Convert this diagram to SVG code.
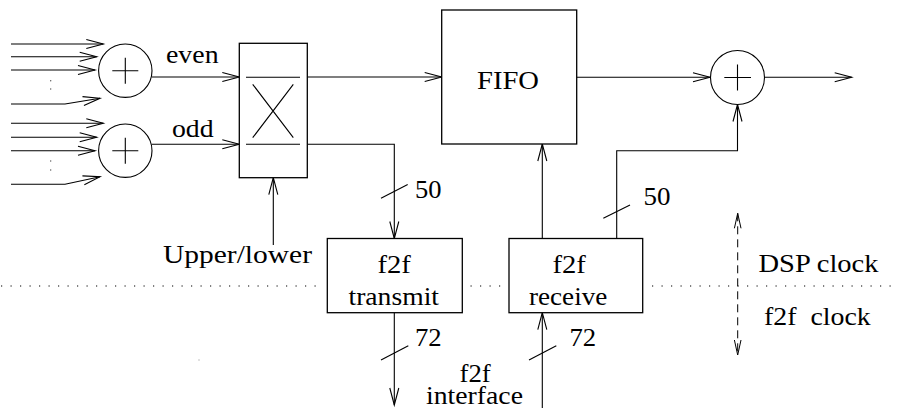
<svg xmlns="http://www.w3.org/2000/svg" width="897" height="408" viewBox="0 0 897 408">
<style>
.ln{fill:none;stroke:#000;stroke-width:1.1}
.box{fill:#fff;stroke:#000;stroke-width:1.3}
.circ{fill:#fff;stroke:#000;stroke-width:1.1}
.arr{marker-end:url(#ah)}
.dot{fill:none;stroke:#000;stroke-width:1.2;stroke-dasharray:1.2 8.3}
.dash{fill:none;stroke:#000;stroke-width:1;stroke-dasharray:8 5;marker-start:url(#sh);marker-end:url(#sh)}
</style>
<defs>
<marker id="ah" markerUnits="userSpaceOnUse" viewBox="-19 -6 20 12" refX="0" refY="0" markerWidth="20" markerHeight="12" orient="auto" overflow="visible">
<path d="M-17,-4.5 L0,0 L-17,4.5" fill="none" stroke="#000" stroke-width="1.1"/>
</marker>
<marker id="sh" markerUnits="userSpaceOnUse" viewBox="-16 -5 17 10" refX="0" refY="0" markerWidth="17" markerHeight="10" orient="auto-start-reverse" overflow="visible">
<path d="M-15,-3.3 L0,0 L-15,3.3" fill="none" stroke="#000" stroke-width="1"/>
</marker>
</defs>

<g id="connectors">
<path class="ln arr" d="M11,44 H103.3"/>
<path class="ln arr" d="M11,56.7 H96.7"/>
<path class="ln arr" d="M11,70 H95"/>
<path class="ln arr" d="M11,104 H65 L100,98.3"/>
<path class="ln arr" d="M11,123.3 H103.3"/>
<path class="ln arr" d="M11,137.3 H96.7"/>
<path class="ln arr" d="M11,150.7 H95"/>
<path class="ln arr" d="M11,184.3 H65 L100,176.7"/>
<path class="ln arr" d="M151.8,77 H239.3"/>
<path class="ln arr" d="M151.8,144.3 H239.3"/>
<path class="ln arr" d="M307.3,77 H441.7"/>
<path class="ln arr" d="M307.3,144.3 H394.3 V238.5"/>
<path class="ln arr" d="M273.3,245 V177.7"/>
<path class="ln arr" d="M394.3,312.7 V405"/>
<path class="ln arr" d="M542.3,408 V312.7"/>
<path class="ln arr" d="M542.3,238.5 V144"/>
<path class="ln arr" d="M616.7,238.5 V150.7 H737.5 V104.5"/>
<path class="ln arr" d="M576.7,77.3 H710"/>
<path class="ln arr" d="M765,77.3 H851.7"/>
<path class="dash" d="M737.7,213.3 V355"/>
<path class="ln" d="M381,198.3 L407.7,184.5"/>
<path class="ln" d="M603.3,218.3 L630,205"/>
<path class="ln" d="M381,360 L408.3,345.7"/>
<path class="ln" d="M529,360 L556.3,345.7"/>
<path class="dot" d="M1,286 H317"/>
<path class="dot" d="M470.5,286 H501"/>
<path class="dot" d="M652,286 H897"/>
</g>

<g font-family="Liberation Serif, Times New Roman, DejaVu Serif, serif" font-size="26" fill="#000">
<g id="inputs-even">
<circle cx="50.7" cy="80.7" r="0.7" fill="#555"/>
<circle cx="50.7" cy="89" r="0.7" fill="#555"/>
</g>
<g id="inputs-odd">
<circle cx="50.7" cy="161" r="0.7" fill="#555"/>
<circle cx="50.7" cy="170" r="0.7" fill="#555"/>
</g>

<g id="adder-even">
<circle class="circ" cx="125.3" cy="70.7" r="26.7"/>
<path class="ln" d="M112.3,70.7 H138.3 M125.3,57.7 V83.7"/>
<text x="166" y="63" textLength="52.6" lengthAdjust="spacingAndGlyphs">even</text>
</g>

<g id="adder-odd">
<circle class="circ" cx="125.3" cy="150.7" r="26.7"/>
<path class="ln" d="M112.3,150.7 H138.3 M125.3,137.7 V163.7"/>
<text x="172" y="137" textLength="41.6" lengthAdjust="spacingAndGlyphs">odd</text>
</g>

<g id="crossbar">
<rect class="box" x="239.3" y="43.3" width="68" height="134.4"/>
<path class="ln" d="M246,77.3 H300 M246,144.3 H300 M252.7,84.3 L293.3,137.7 M293.3,84.3 L252.7,137.7"/>
</g>

<g id="upper-lower">
<text x="163" y="263" textLength="149" lengthAdjust="spacingAndGlyphs">Upper/lower</text>
</g>

<g id="fifo">
<rect class="box" x="441.7" y="10" width="135" height="134"/>
<text x="477" y="89" textLength="62" lengthAdjust="spacingAndGlyphs">FIFO</text>
</g>

<g id="f2f-transmit">
<rect class="box" x="327.3" y="238.5" width="135" height="74.2"/>
<text x="377.5" y="273" textLength="33.4" lengthAdjust="spacingAndGlyphs">f2f</text>
<text x="348.5" y="305" textLength="90.5" lengthAdjust="spacingAndGlyphs">transmit</text>
</g>

<g id="f2f-receive">
<rect class="box" x="509" y="238.5" width="133.7" height="74.2"/>
<text x="552.5" y="273" textLength="33.4" lengthAdjust="spacingAndGlyphs">f2f</text>
<text x="529" y="305" textLength="78.3" lengthAdjust="spacingAndGlyphs">receive</text>
</g>

<g id="adder-out">
<circle class="circ" cx="737.5" cy="77.5" r="27"/>
<path class="ln" d="M724.3,77.5 H751 M737.5,64.5 V90.5"/>
</g>

<g id="labels">
<text x="415" y="198" textLength="26.5" lengthAdjust="spacingAndGlyphs">50</text>
<text x="643.5" y="205" textLength="27" lengthAdjust="spacingAndGlyphs">50</text>
<text x="415" y="346" textLength="26.7" lengthAdjust="spacingAndGlyphs">72</text>
<text x="569.5" y="346" textLength="26.7" lengthAdjust="spacingAndGlyphs">72</text>
<text x="459.5" y="382" textLength="31.3" lengthAdjust="spacingAndGlyphs">f2f</text>
<text x="426" y="403.5" textLength="97" lengthAdjust="spacingAndGlyphs">interface</text>
<text x="758.5" y="272" textLength="120" lengthAdjust="spacingAndGlyphs">DSP clock</text>
<text x="764" y="325" textLength="106.7" lengthAdjust="spacingAndGlyphs" xml:space="preserve">f2f  clock</text>
<rect x="198.5" y="359.5" width="1" height="1" fill="#888"/>
</g>
</g>
</svg>
